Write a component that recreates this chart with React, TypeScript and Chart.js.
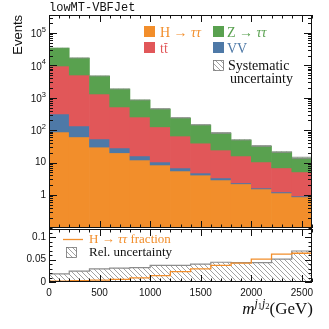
import React, { useEffect, useRef } from "react";
import { Chart, registerables } from "chart.js";
Chart.register(...registerables);

// ---- data ----
const binEdges = [0, 200, 400, 600, 800, 1000, 1200, 1400, 1600, 1800, 2000, 2200, 2400, 2600];
const hTauTau = [88, 62, 30, 20, 12, 8.4, 5.5, 4.1, 2.9, 2.2, 1.53, 1.15, 0.87];
const vv = [228, 73, 23.5, 8.4, 4.0, 2.0, 1.3, 0.65, 0.45, 0.16, 0.11, 0.09, 0.06];
const ttbar = [9260, 4915, 1257, 492, 239, 116, 59, 35, 21, 13.6, 8.8, 5.6, 4.2];
const zTauTau = [24800, 11850, 3400, 1350, 600, 325, 172, 105, 57.5, 34, 22, 14.4, 8.8];
const hFraction = [0.002, 0.003, 0.004, 0.006, 0.009, 0.014, 0.023, 0.029, 0.037, 0.042, 0.051, 0.062, 0.064];
const relUncertainty = [0.018, 0.024, 0.029, 0.031, 0.032, 0.037, 0.037, 0.04, 0.044, 0.043, 0.043, 0.051, 0.069];
const yTicksMain = [1, 10, 100, 1000, 10000, 100000];
const yTickLabelsMain = ["1", "10", "10^2", "10^3", "10^4", "10^5"];
const yTicksRatio = [0, 0.05, 0.1];
const yTickLabelsRatio = ["0", "0.05", "0.1"];
const xTicks = [0, 500, 1000, 1500, 2000, 2500];
const xTickLabels = ["0", "500", "1000", "1500", "2000", "2500"];
const regionTitle = "lowMT-VBFJet";

const C_H = "#f28e2b";
const C_TT = "#e15759";
const C_Z = "#59a14f";
const C_VV = "#4e79a7";
const C_UNC = "#8c8c8c";

const SANS = "'Liberation Sans', Arial, sans-serif";
const SERIF = "'Liberation Serif', 'Times New Roman', serif";
const MONO = "'Liberation Mono', 'Courier New', monospace";

const Y_MIN = 0.095;
const Y_MAX = 3.6e5;

function makeHatch(): CanvasPattern | string {
  const c = document.createElement("canvas");
  c.width = 5;
  c.height = 5;
  const g = c.getContext("2d");
  if (!g) return "#ccc";
  g.strokeStyle = "#8a8a8a";
  g.lineWidth = 0.8;
  g.beginPath();
  g.moveTo(-1, -1);
  g.lineTo(6, 6);
  g.moveTo(-1, 4);
  g.lineTo(1, 6);
  g.moveTo(4, -1);
  g.lineTo(6, 1);
  g.stroke();
  return g.createPattern(c, "repeat") || "#ccc";
}

type Part = { t: string; italic?: boolean; size?: number; dy?: number };
function drawParts(ctx: CanvasRenderingContext2D, x: number, y: number, parts: Part[], color: string, family: string, size: number) {
  let cx = x;
  ctx.fillStyle = color;
  ctx.textAlign = "left";
  ctx.textBaseline = "alphabetic";
  for (const p of parts) {
    const s = p.size ?? size;
    ctx.font = `${p.italic ? "italic " : ""}${s}px ${family}`;
    ctx.fillText(p.t, cx, y + (p.dy ?? 0));
    cx += ctx.measureText(p.t).width;
  }
  return cx;
}
function partsWidth(ctx: CanvasRenderingContext2D, parts: Part[], family: string, size: number) {
  let w = 0;
  for (const p of parts) {
    const s = p.size ?? size;
    ctx.font = `${p.italic ? "italic " : ""}${s}px ${family}`;
    w += ctx.measureText(p.t).width;
  }
  return w;
}

function line(ctx: CanvasRenderingContext2D, x1: number, y1: number, x2: number, y2: number) {
  ctx.beginPath();
  ctx.moveTo(x1, y1);
  ctx.lineTo(x2, y2);
  ctx.stroke();
}

function drawXTicks(chart: any) {
  const { ctx, chartArea: a } = chart;
  const xs = chart.scales.x;
  ctx.strokeStyle = "#111";
  ctx.lineWidth = 1;
  for (let v = 0; v <= 2600; v += 100) {
    const px = Math.round(xs.getPixelForValue(v)) + 0.5;
    const len = v % 500 === 0 ? 7 : 3.5;
    line(ctx, px, a.bottom, px, a.bottom - len);
    line(ctx, px, a.top, px, a.top + len);
  }
}

function drawFrame(chart: any) {
  const { ctx, chartArea: a } = chart;
  ctx.strokeStyle = "#111";
  ctx.lineWidth = 1;
  ctx.strokeRect(Math.round(a.left) + 0.5, Math.round(a.top) + 0.5, Math.round(a.right - a.left) - 1, Math.round(a.bottom - a.top) - 1);
}

const mainDecor = {
  id: "mainDecor",
  afterDraw(chart: any) {
    const { ctx, chartArea: a } = chart;
    const ys = chart.scales.y;
    ctx.save();
    drawFrame(chart);
    drawXTicks(chart);
    // y ticks (log)
    for (let k = -2; k <= 6; k++) {
      for (let m = 1; m <= 9; m++) {
        const v = m * Math.pow(10, k);
        if (v < Y_MIN || v > Y_MAX) continue;
        const py = Math.round(ys.getPixelForValue(v)) + 0.5;
        const len = m === 1 ? 8 : 4;
        line(ctx, a.left, py, a.left + len, py);
        line(ctx, a.right, py, a.right - len, py);
      }
    }
    // y tick labels
    ctx.fillStyle = "#111";
    yTicksMain.forEach((v, i) => {
      const py = ys.getPixelForValue(v);
      const [base, exp] = yTickLabelsMain[i].split("^");
      ctx.textAlign = "right";
      ctx.textBaseline = "middle";
      let xr = a.left - 3;
      if (exp) {
        ctx.font = `7.5px ${SANS}`;
        ctx.fillText(exp, xr, py - 3);
        xr -= ctx.measureText(exp).width;
        ctx.font = `10px ${SANS}`;
        ctx.fillText(base, xr, py + 1.5);
      } else {
        ctx.font = `10px ${SANS}`;
        ctx.fillText(base, xr, py);
      }
    });
    // Events label
    ctx.save();
    ctx.translate(18, a.top);
    ctx.rotate(-Math.PI / 2);
    ctx.font = `13px ${SANS}`;
    ctx.textAlign = "right";
    ctx.textBaseline = "middle";
    ctx.fillText("Events", 0, 0);
    ctx.restore();
    // region title
    ctx.font = `12px ${MONO}`;
    ctx.textAlign = "left";
    ctx.textBaseline = "middle";
    ctx.fillStyle = "#111";
    ctx.fillText(regionTitle, a.left, 8);
    // legend
    const fs = 14;
    const arrowTT: Part[] = [{ t: "H " }, { t: "→" }, { t: " ττ", italic: true }];
    ctx.fillStyle = C_H;
    ctx.fillRect(144, 26, 11, 11);
    drawParts(ctx, 160, 37, arrowTT, C_H, SERIF, fs);
    ctx.fillStyle = C_TT;
    ctx.fillRect(144, 42, 11, 11);
    const endT = drawParts(ctx, 160, 53, [{ t: "tt" }], C_TT, SERIF, fs);
    ctx.font = `${fs}px ${SERIF}`;
    const tw = ctx.measureText("t").width;
    ctx.strokeStyle = C_TT;
    ctx.lineWidth = 0.9;
    line(ctx, endT - tw + 0.3, 43.5, endT - 0.3, 43.5);
    ctx.fillStyle = C_Z;
    ctx.fillRect(213, 26, 11, 11);
    drawParts(ctx, 227, 37, [{ t: "Z " }, { t: "→" }, { t: " ττ", italic: true }], C_Z, SERIF, fs);
    ctx.fillStyle = C_VV;
    ctx.fillRect(213, 42, 11, 11);
    drawParts(ctx, 227, 53, [{ t: "VV" }], C_VV, SERIF, fs);
    ctx.fillStyle = chart.$hatch;
    ctx.fillRect(213, 60, 11, 11);
    ctx.strokeStyle = "#777";
    ctx.lineWidth = 0.8;
    ctx.strokeRect(213.5, 60.5, 10, 10);
    drawParts(ctx, 228, 69.5, [{ t: "Systematic" }], "#111", SERIF, fs);
    drawParts(ctx, 230, 83, [{ t: "uncertainty" }], "#111", SERIF, fs);
    ctx.restore();
  },
};

const ratioDecor = {
  id: "ratioDecor",
  afterDraw(chart: any) {
    const { ctx, chartArea: a } = chart;
    const xs = chart.scales.x;
    const ys = chart.scales.y;
    ctx.save();
    drawFrame(chart);
    drawXTicks(chart);
    for (let i = 0; i <= 12; i++) {
      const v = i * 0.01;
      const py = Math.round(ys.getPixelForValue(v)) + 0.5;
      const len = i % 5 === 0 ? 7 : 3.5;
      line(ctx, a.left, py, a.left + len, py);
      line(ctx, a.right, py, a.right - len, py);
    }
    ctx.fillStyle = "#111";
    ctx.font = `10px ${SANS}`;
    ctx.textAlign = "right";
    ctx.textBaseline = "middle";
    yTicksRatio.forEach((v, i) => {
      ctx.fillText(yTickLabelsRatio[i], a.left - 3, ys.getPixelForValue(v));
    });
    ctx.textAlign = "center";
    ctx.textBaseline = "alphabetic";
    xTicks.forEach((v, i) => {
      ctx.fillText(xTickLabels[i], xs.getPixelForValue(v), a.bottom + 14);
    });
    // x title
    const title: Part[] = [
      { t: "m", italic: true },
      { t: "j", italic: true, size: 12, dy: -7 },
      { t: "1", size: 8.5, dy: -5 },
      { t: "j", italic: true, size: 12, dy: -7 },
      { t: "2", size: 8.5, dy: -5 },
      { t: "(GeV)" },
    ];
    const w = partsWidth(ctx, title, SERIF, 17);
    drawParts(ctx, a.right + 1 - w, 314, title, "#111", SERIF, 17);
    // legend
    ctx.strokeStyle = C_H;
    ctx.lineWidth = 1.3;
    line(ctx, 63, 239.5, 83, 239.5);
    drawParts(ctx, 89, 243, [{ t: "H " }, { t: "→" }, { t: " ττ", italic: true }, { t: " fraction" }], C_H, SERIF, 13);
    ctx.fillStyle = chart.$hatch;
    ctx.fillRect(66, 247, 11, 11);
    ctx.strokeStyle = "#777";
    ctx.lineWidth = 0.8;
    ctx.strokeRect(66.5, 247.5, 10, 10);
    drawParts(ctx, 89, 256, [{ t: "Rel. uncertainty" }], "#111", SERIF, 13);
    ctx.restore();
  },
};

export default function App() {
  const mainRef = useRef<HTMLCanvasElement>(null);
  const ratioRef = useRef<HTMLCanvasElement>(null);

  useEffect(() => {
    document.body.style.margin = "0";
    const hatch = makeHatch();
    const centers = binEdges.slice(0, -1).map((e, i) => (e + binEdges[i + 1]) / 2);
    const top1 = hTauTau.slice();
    const top2 = top1.map((v, i) => v + vv[i]);
    const top3 = top2.map((v, i) => v + ttbar[i]);
    const top4 = top3.map((v, i) => v + zTauTau[i]);
    const floating = (lo: number[] | null, hi: number[]) =>
      centers.map((c, i) => ({ x: c, y: [lo ? lo[i] : Y_MIN, hi[i]] }));
    const barCommon = {
      grouped: false,
      barPercentage: 1,
      categoryPercentage: 1,
      borderWidth: 0,
      order: 1,
    };
    const main = new Chart(mainRef.current as HTMLCanvasElement, {
      type: "bar",
      data: {
        datasets: [
          {
            label: "Systematic uncertainty",
            data: centers.map((c, i) => ({ x: c, y: [top4[i] * (1 - relUncertainty[i]), top4[i] * (1 + relUncertainty[i])] })),
            backgroundColor: hatch as any,
            borderColor: C_UNC,
            borderWidth: { top: 1, bottom: 1, left: 0, right: 0 },
            borderSkipped: false,
            grouped: false,
            barPercentage: 1,
            categoryPercentage: 1,
            order: 0,
          } as any,
          { label: "Z→ττ", data: floating(top3, top4), backgroundColor: C_Z, ...barCommon } as any,
          { label: "tt", data: floating(top2, top3), backgroundColor: C_TT, ...barCommon } as any,
          { label: "VV", data: floating(top1, top2), backgroundColor: C_VV, ...barCommon } as any,
          { label: "H→ττ", data: floating(null, top1), backgroundColor: C_H, ...barCommon } as any,
        ],
      },
      options: {
        responsive: false,
        animation: false,
        devicePixelRatio: 1,
        layout: { padding: { left: 49, right: 17, top: 15, bottom: 101 } },
        plugins: { legend: { display: false }, tooltip: { enabled: false } },
        scales: {
          x: { type: "linear", min: 0, max: 2600, display: false, offset: false },
          y: { type: "logarithmic", min: Y_MIN, max: Y_MAX, display: false },
        },
      } as any,
      plugins: [mainDecor],
    });
    (main as any).$hatch = hatch;
    main.draw();

    const edgePts = (vals: number[]) => binEdges.map((e, i) => ({ x: e, y: vals[Math.min(i, vals.length - 1)] }));
    const ratio = new Chart(ratioRef.current as HTMLCanvasElement, {
      type: "line",
      data: {
        datasets: [
          {
            label: "H→ττ fraction",
            data: edgePts(hFraction),
            stepped: true,
            borderColor: C_H,
            borderWidth: 1.3,
            pointRadius: 0,
            fill: false,
            order: 0,
          } as any,
          {
            label: "Rel. uncertainty",
            data: edgePts(relUncertainty),
            stepped: true,
            borderColor: C_UNC,
            borderWidth: 1.2,
            backgroundColor: hatch as any,
            pointRadius: 0,
            fill: "origin",
            order: 1,
          } as any,
        ],
      },
      options: {
        responsive: false,
        animation: false,
        devicePixelRatio: 1,
        layout: { padding: { left: 49, right: 17, top: 229, bottom: 47 } },
        plugins: { legend: { display: false }, tooltip: { enabled: false } },
        scales: {
          x: { type: "linear", min: 0, max: 2600, display: false },
          y: { type: "linear", min: 0, max: 0.118, display: false },
        },
      } as any,
      plugins: [ratioDecor],
    });
    (ratio as any).$hatch = hatch;
    ratio.draw();

    return () => {
      main.destroy();
      ratio.destroy();
    };
  }, []);

  return (
    <div style={{ position: "relative", width: 329, height: 329, background: "#fff" }}>
      <canvas ref={mainRef} width={329} height={329} style={{ position: "absolute", left: 0, top: 0, width: 329, height: 329 }} />
      <canvas ref={ratioRef} width={329} height={329} style={{ position: "absolute", left: 0, top: 0, width: 329, height: 329 }} />
    </div>
  );
}
